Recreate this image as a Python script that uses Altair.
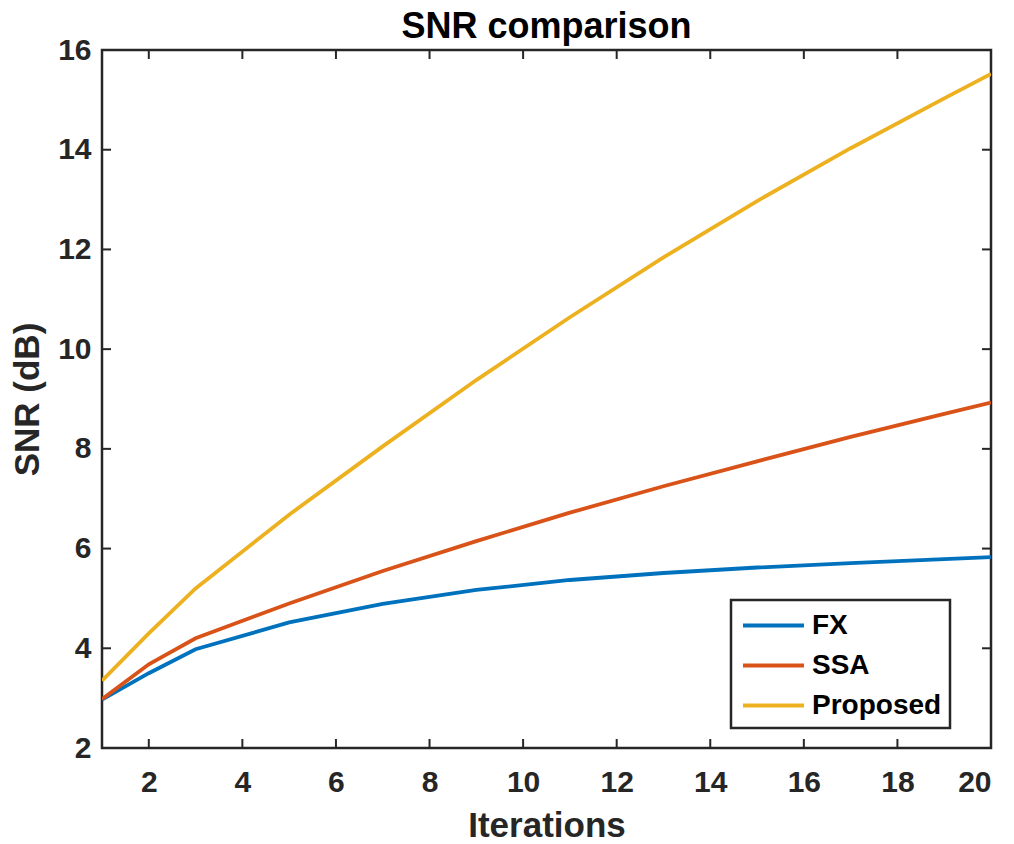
import altair as alt
import pandas as pd

# Iteration counts where SNR was evaluated
iterations = [1, 2, 3, 5, 7, 9, 11, 13, 15, 17, 19, 20]

# SNR (dB) per method
snr_fx = [2.97, 3.50, 3.98, 4.52, 4.89, 5.17, 5.37, 5.51, 5.62, 5.71, 5.79, 5.83]
snr_ssa = [2.98, 3.68, 4.20, 4.90, 5.55, 6.15, 6.72, 7.25, 7.75, 8.24, 8.70, 8.93]
snr_proposed = [3.35, 4.30, 5.20, 6.68, 8.05, 9.38, 10.64, 11.84, 12.97, 14.03, 15.03, 15.52]

methods = ["FX", "SSA", "Proposed"]
colors = ["#0072BD", "#D95319", "#EDB120"]

x_ticks = [2, 4, 6, 8, 10, 12, 14, 16, 18, 20]
y_ticks = [2, 4, 6, 8, 10, 12, 14, 16]

W, H = 889, 698
TICK = 9
AXIS_COLOR = "#262626"
FONT = "Liberation Sans"

rows = []
for name, vals in zip(methods, [snr_fx, snr_ssa, snr_proposed]):
    for it, v in zip(iterations, vals):
        rows.append({"Iterations": it, "SNR": v, "Method": name})
df = pd.DataFrame(rows)

x_scale = alt.Scale(domain=[1, 20], nice=False, zero=False)
y_scale = alt.Scale(domain=[2, 16], nice=False, zero=False)

axis_text = dict(labelFont=FONT, labelFontSize=30, labelFontWeight="bold",
                 labelColor=AXIS_COLOR, titleFont=FONT, titleFontSize=35,
                 titleFontWeight="bold", titleColor=AXIS_COLOR,
                 ticks=False, domain=False, grid=False)
x_axis = alt.Axis(values=x_ticks, title="Iterations", labelPadding=19,
                  titlePadding=11, **axis_text)
y_axis = alt.Axis(values=y_ticks, title="SNR (dB)", labelPadding=11,
                  titlePadding=12, **axis_text)

lines = alt.Chart(df).mark_line(strokeWidth=3.8, clip=True).encode(
    x=alt.X("Iterations:Q", scale=x_scale, axis=x_axis),
    y=alt.Y("SNR:Q", scale=y_scale, axis=y_axis),
    color=alt.Color("Method:N",
                    scale=alt.Scale(domain=methods, range=colors),
                    sort=methods,
                    legend=alt.Legend(title=None, orient="none",
                                      legendX=629, legendY=550,
                                      symbolType="M-2,0H2", symbolSize=930,
                                      symbolStrokeWidth=3.8, symbolOffset=17,
                                      labelFontSize=28, labelFont=FONT,
                                      labelFontWeight="bold", labelColor="#000000",
                                      labelOffset=21, rowPadding=8,
                                      padding=8, strokeColor=AXIS_COLOR,
                                      fillColor="#ffffff")),
)

# inward tick marks on all four sides of the box
xt = pd.DataFrame({"Iterations": x_ticks})
yt = pd.DataFrame({"SNR": y_ticks})
rule_style = dict(color=AXIS_COLOR, strokeWidth=2)

x_bottom = alt.Chart(xt).mark_rule(**rule_style).encode(
    x=alt.X("Iterations:Q", scale=x_scale, axis=x_axis), y=alt.value(H), y2=alt.value(H - TICK))
x_top = alt.Chart(xt).mark_rule(**rule_style).encode(
    x=alt.X("Iterations:Q", scale=x_scale, axis=x_axis), y=alt.value(0), y2=alt.value(TICK))
y_left = alt.Chart(yt).mark_rule(**rule_style).encode(
    y=alt.Y("SNR:Q", scale=y_scale, axis=y_axis), x=alt.value(0), x2=alt.value(TICK))
y_right = alt.Chart(yt).mark_rule(**rule_style).encode(
    y=alt.Y("SNR:Q", scale=y_scale, axis=y_axis), x=alt.value(W), x2=alt.value(W - TICK))

chart = alt.layer(lines, x_bottom, x_top, y_left, y_right).properties(
    width=W, height=H,
    background="#ffffff",
    title=alt.Title("SNR comparison", fontSize=36, font=FONT, fontWeight="bold",
                    color="#000000", anchor="middle", offset=-11),
    autosize=alt.AutoSizeParams(type="none"),
    padding={"left": 102, "top": 50, "right": 23, "bottom": 96},
).configure_view(
    stroke=AXIS_COLOR, strokeWidth=2.5
).configure_legend(
    strokeWidth=2.5
)

chart.save("out.html", embed_options={"renderer": "svg", "actions": False})
